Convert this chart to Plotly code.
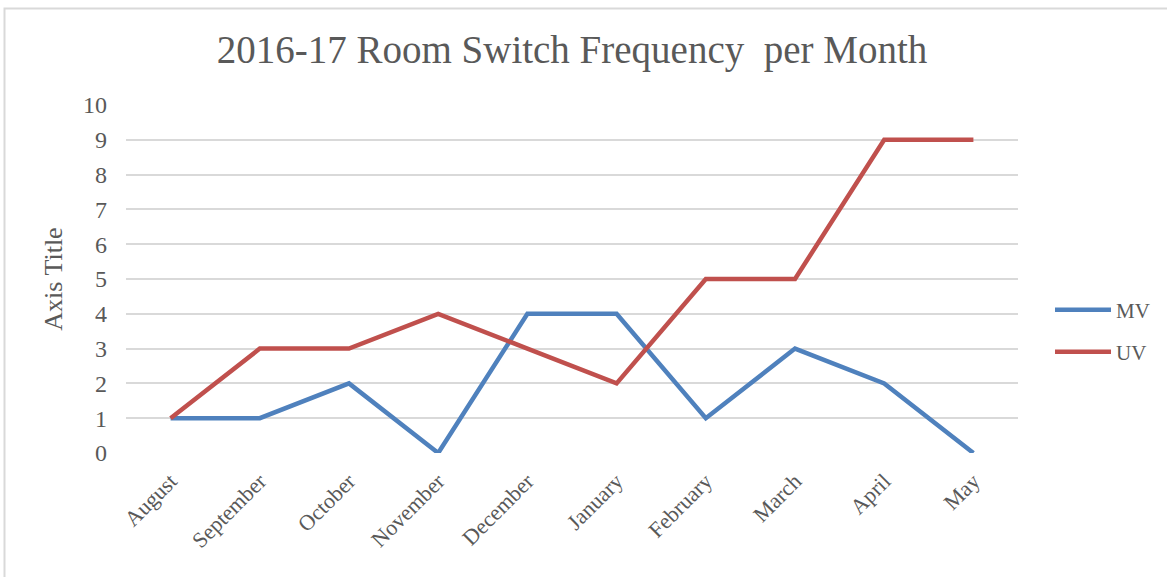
import plotly.graph_objects as go

months = ["August", "September", "October", "November", "December",
          "January", "February", "March", "April", "May"]
mv = [1, 1, 2, 0, 4, 4, 1, 3, 2, 0]
uv = [1, 3, 3, 4, 3, 2, 5, 5, 9, 9]
y_ticks = list(range(0, 11))

FONT = "Liberation Serif"
GREY = "#595959"

W, H = 1167, 577
L, R, T, B = 126, 149, 105, 124
pw, ph = W - L - R, H - T - B


def px_x(x):
    return (x - L) / pw


def px_y(y):
    return (H - B - y) / ph


fig = go.Figure()
fig.add_trace(go.Scatter(x=months, y=mv, name="MV", mode="lines",
                         line=dict(color="#4F81BD", width=4.5),
                         legend="legend", showlegend=True))
fig.add_trace(go.Scatter(x=months, y=uv, name="UV", mode="lines",
                         line=dict(color="#C0504D", width=4.5),
                         legend="legend2", showlegend=True))

fig.add_shape(type="rect", xref="paper", yref="paper",
              x0=px_x(4.5), x1=px_x(1190), y0=px_y(8.5), y1=px_y(600),
              line=dict(color="#d9d9d9", width=2), fillcolor="rgba(0,0,0,0)",
              layer="below")

leg_common = dict(xanchor="left", yanchor="middle",
                  font=dict(size=21, color=GREY, family=FONT),
                  itemwidth=56, bgcolor="rgba(0,0,0,0)")

fig.update_layout(
    width=W, height=H,
    showlegend=True,
    margin=dict(l=L, r=R, t=T, b=B),
    paper_bgcolor="white", plot_bgcolor="white",
    font=dict(family=FONT, color=GREY, size=21),
    title=dict(text="2016-17 Room Switch Frequency&nbsp;&nbsp;per Month",
               x=0.5, xanchor="center", xref="paper",
               y=1 - 49 / H, yanchor="middle",
               font=dict(family=FONT, size=39, color=GREY)),
    xaxis=dict(showgrid=False, showline=False, ticks="", tickangle=-45,
               range=[-0.5, 9.5], tickfont=dict(size=22, color=GREY),
               zeroline=False, ticklabelstandoff=10),
    yaxis=dict(range=[0, 10], tickvals=y_ticks, showgrid=True,
               gridcolor="#d9d9d9", gridwidth=1.5, zeroline=False,
               showline=False, ticks="", ticklen=0,
               tickfont=dict(size=24, color=GREY), ticklabelstandoff=18,
               title=dict(text="Axis Title", font=dict(size=26, color=GREY),
                          standoff=12)),
    legend=dict(x=px_x(1050), y=px_y(310), **leg_common),
    legend2=dict(x=px_x(1050), y=px_y(352), **leg_common),
)

fig.write_html("out.html", config={"displayModeBar": False},
               post_script="document.body.style.margin='0px';")
